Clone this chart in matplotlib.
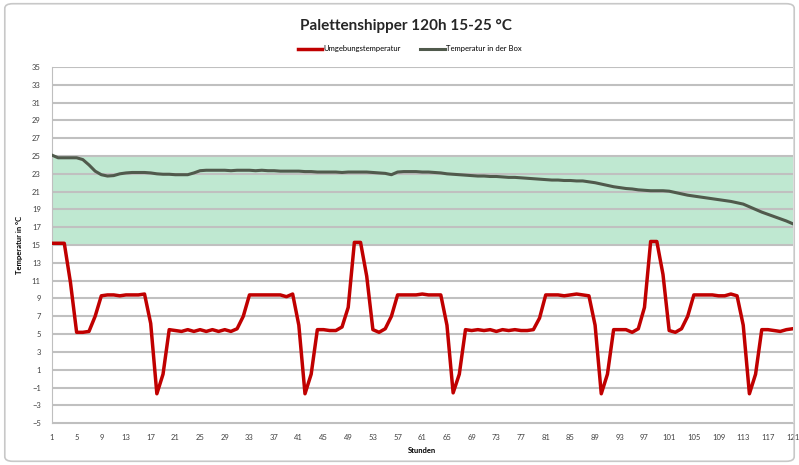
import matplotlib.pyplot as plt
from matplotlib.patches import FancyBboxPatch

plt.rcParams['font.family'] = ['Lato', 'DejaVu Sans']

# hours 1..121
stunden = list(range(1, 122))

umgebung = [
    15.2, 15.2, 15.2, 10.8, 5.2, 5.2, 5.3, 7.0, 9.3, 9.4,
    9.4, 9.3, 9.4, 9.4, 9.4, 9.5, 6.2, -1.7, 0.5, 5.5,
    5.4, 5.3, 5.5, 5.3, 5.5, 5.3, 5.5, 5.3, 5.5, 5.3,
    5.6, 7.0, 9.4, 9.4, 9.4, 9.4, 9.4, 9.4, 9.2, 9.5,
    6.0, -1.7, 0.5, 5.5, 5.5, 5.4, 5.4, 5.8, 8.0, 15.3,
    15.3, 11.5, 5.5, 5.2, 5.6, 7.0, 9.4, 9.4, 9.4, 9.4,
    9.5, 9.4, 9.4, 9.4, 6.0, -1.6, 0.5, 5.5, 5.4, 5.5,
    5.4, 5.5, 5.3, 5.5, 5.4, 5.5, 5.4, 5.4, 5.5, 6.8,
    9.4, 9.4, 9.4, 9.3, 9.4, 9.5, 9.4, 9.3, 6.0, -1.7,
    0.5, 5.5, 5.5, 5.5, 5.2, 5.6, 8.0, 15.4, 15.4, 11.7,
    5.4, 5.2, 5.6, 7.0, 9.4, 9.4, 9.4, 9.4, 9.3, 9.3,
    9.5, 9.3, 6.0, -1.7, 0.5, 5.5, 5.5, 5.4, 5.3, 5.5,
    5.6,
]

box = [
    25.1, 24.8, 24.8, 24.8, 24.8, 24.6, 24.0, 23.3, 22.9, 22.75,
    22.8, 23.0, 23.1, 23.15, 23.15, 23.15, 23.1, 23.0, 22.95, 22.95,
    22.9, 22.9, 22.9, 23.1, 23.35, 23.4, 23.4, 23.4, 23.4, 23.35,
    23.4, 23.4, 23.4, 23.35, 23.4, 23.35, 23.35, 23.3, 23.3, 23.3,
    23.3, 23.25, 23.25, 23.2, 23.2, 23.2, 23.2, 23.15, 23.2, 23.2,
    23.2, 23.2, 23.15, 23.1, 23.05, 22.9, 23.2, 23.25, 23.25, 23.25,
    23.2, 23.2, 23.15, 23.1, 23.0, 22.95, 22.9, 22.85, 22.8, 22.75,
    22.75, 22.7, 22.7, 22.65, 22.6, 22.6, 22.55, 22.5, 22.45, 22.4,
    22.35, 22.3, 22.3, 22.25, 22.25, 22.2, 22.2, 22.1, 22.0, 21.85,
    21.7, 21.55, 21.45, 21.35, 21.3, 21.2, 21.15, 21.1, 21.1, 21.1,
    21.05, 20.9, 20.75, 20.6, 20.5, 20.4, 20.3, 20.2, 20.1, 20.0,
    19.9, 19.75, 19.6, 19.3, 19.0, 18.7, 18.45, 18.2, 17.95, 17.7,
    17.4,
]

band_low, band_high = 15, 25
y_ticks = list(range(-5, 36, 2))
x_ticks = list(range(1, 122, 4))

fig = plt.figure(figsize=(7.99, 4.65), dpi=100)
ax = fig.add_axes([0.065, 0.09, 0.927, 0.766])

# chart border like the Excel chart area
fig.patches.append(FancyBboxPatch((0.006, 0.008), 0.988, 0.984,
                                  boxstyle='round,pad=0,rounding_size=0.01',
                                  transform=fig.transFigure, fill=False,
                                  edgecolor='#c8c8c8', linewidth=1.2))

ax.axhspan(band_low, band_high, color='#bfe8d1', zorder=0, lw=0)
ax.set_yticks(y_ticks)
ax.set_xticks(x_ticks)
ax.grid(axis='y', color='#c0c0c0', linewidth=1.5, zorder=1)
ax.set_axisbelow(True)

ax.plot(stunden, umgebung, color='#c00000', lw=2.5, label='Umgebungstemperatur', zorder=3)
ax.plot(stunden, box, color='#505a4c', lw=2.2, label='Temperatur in der Box', zorder=3)

ax.set_xlim(1, 121)
ax.set_ylim(-5, 35)
ax.tick_params(length=0, labelsize=5.5, colors='#404040', pad=8)
for s in ['top', 'right']:
    ax.spines[s].set_visible(False)
for s in ['left', 'bottom']:
    ax.spines[s].set_color('#bfbfbf')

ax.set_xlabel('Stunden', fontsize=5.5, fontweight='bold', labelpad=4)
ax.set_ylabel('Temperatur in °C', fontsize=5.5, fontweight='bold', labelpad=6)

fig.text(0.508, 0.945, 'Palettenshipper 120h 15-25 °C', ha='center', va='center',
         fontsize=11, fontweight='bold', color='#262626')
fig.legend(loc='center', bbox_to_anchor=(0.513, 0.895), ncol=2, frameon=False,
           fontsize=5.5, handlelength=3.2, handletextpad=0.2, columnspacing=2.5)

fig.savefig('out.png', dpi=100)
